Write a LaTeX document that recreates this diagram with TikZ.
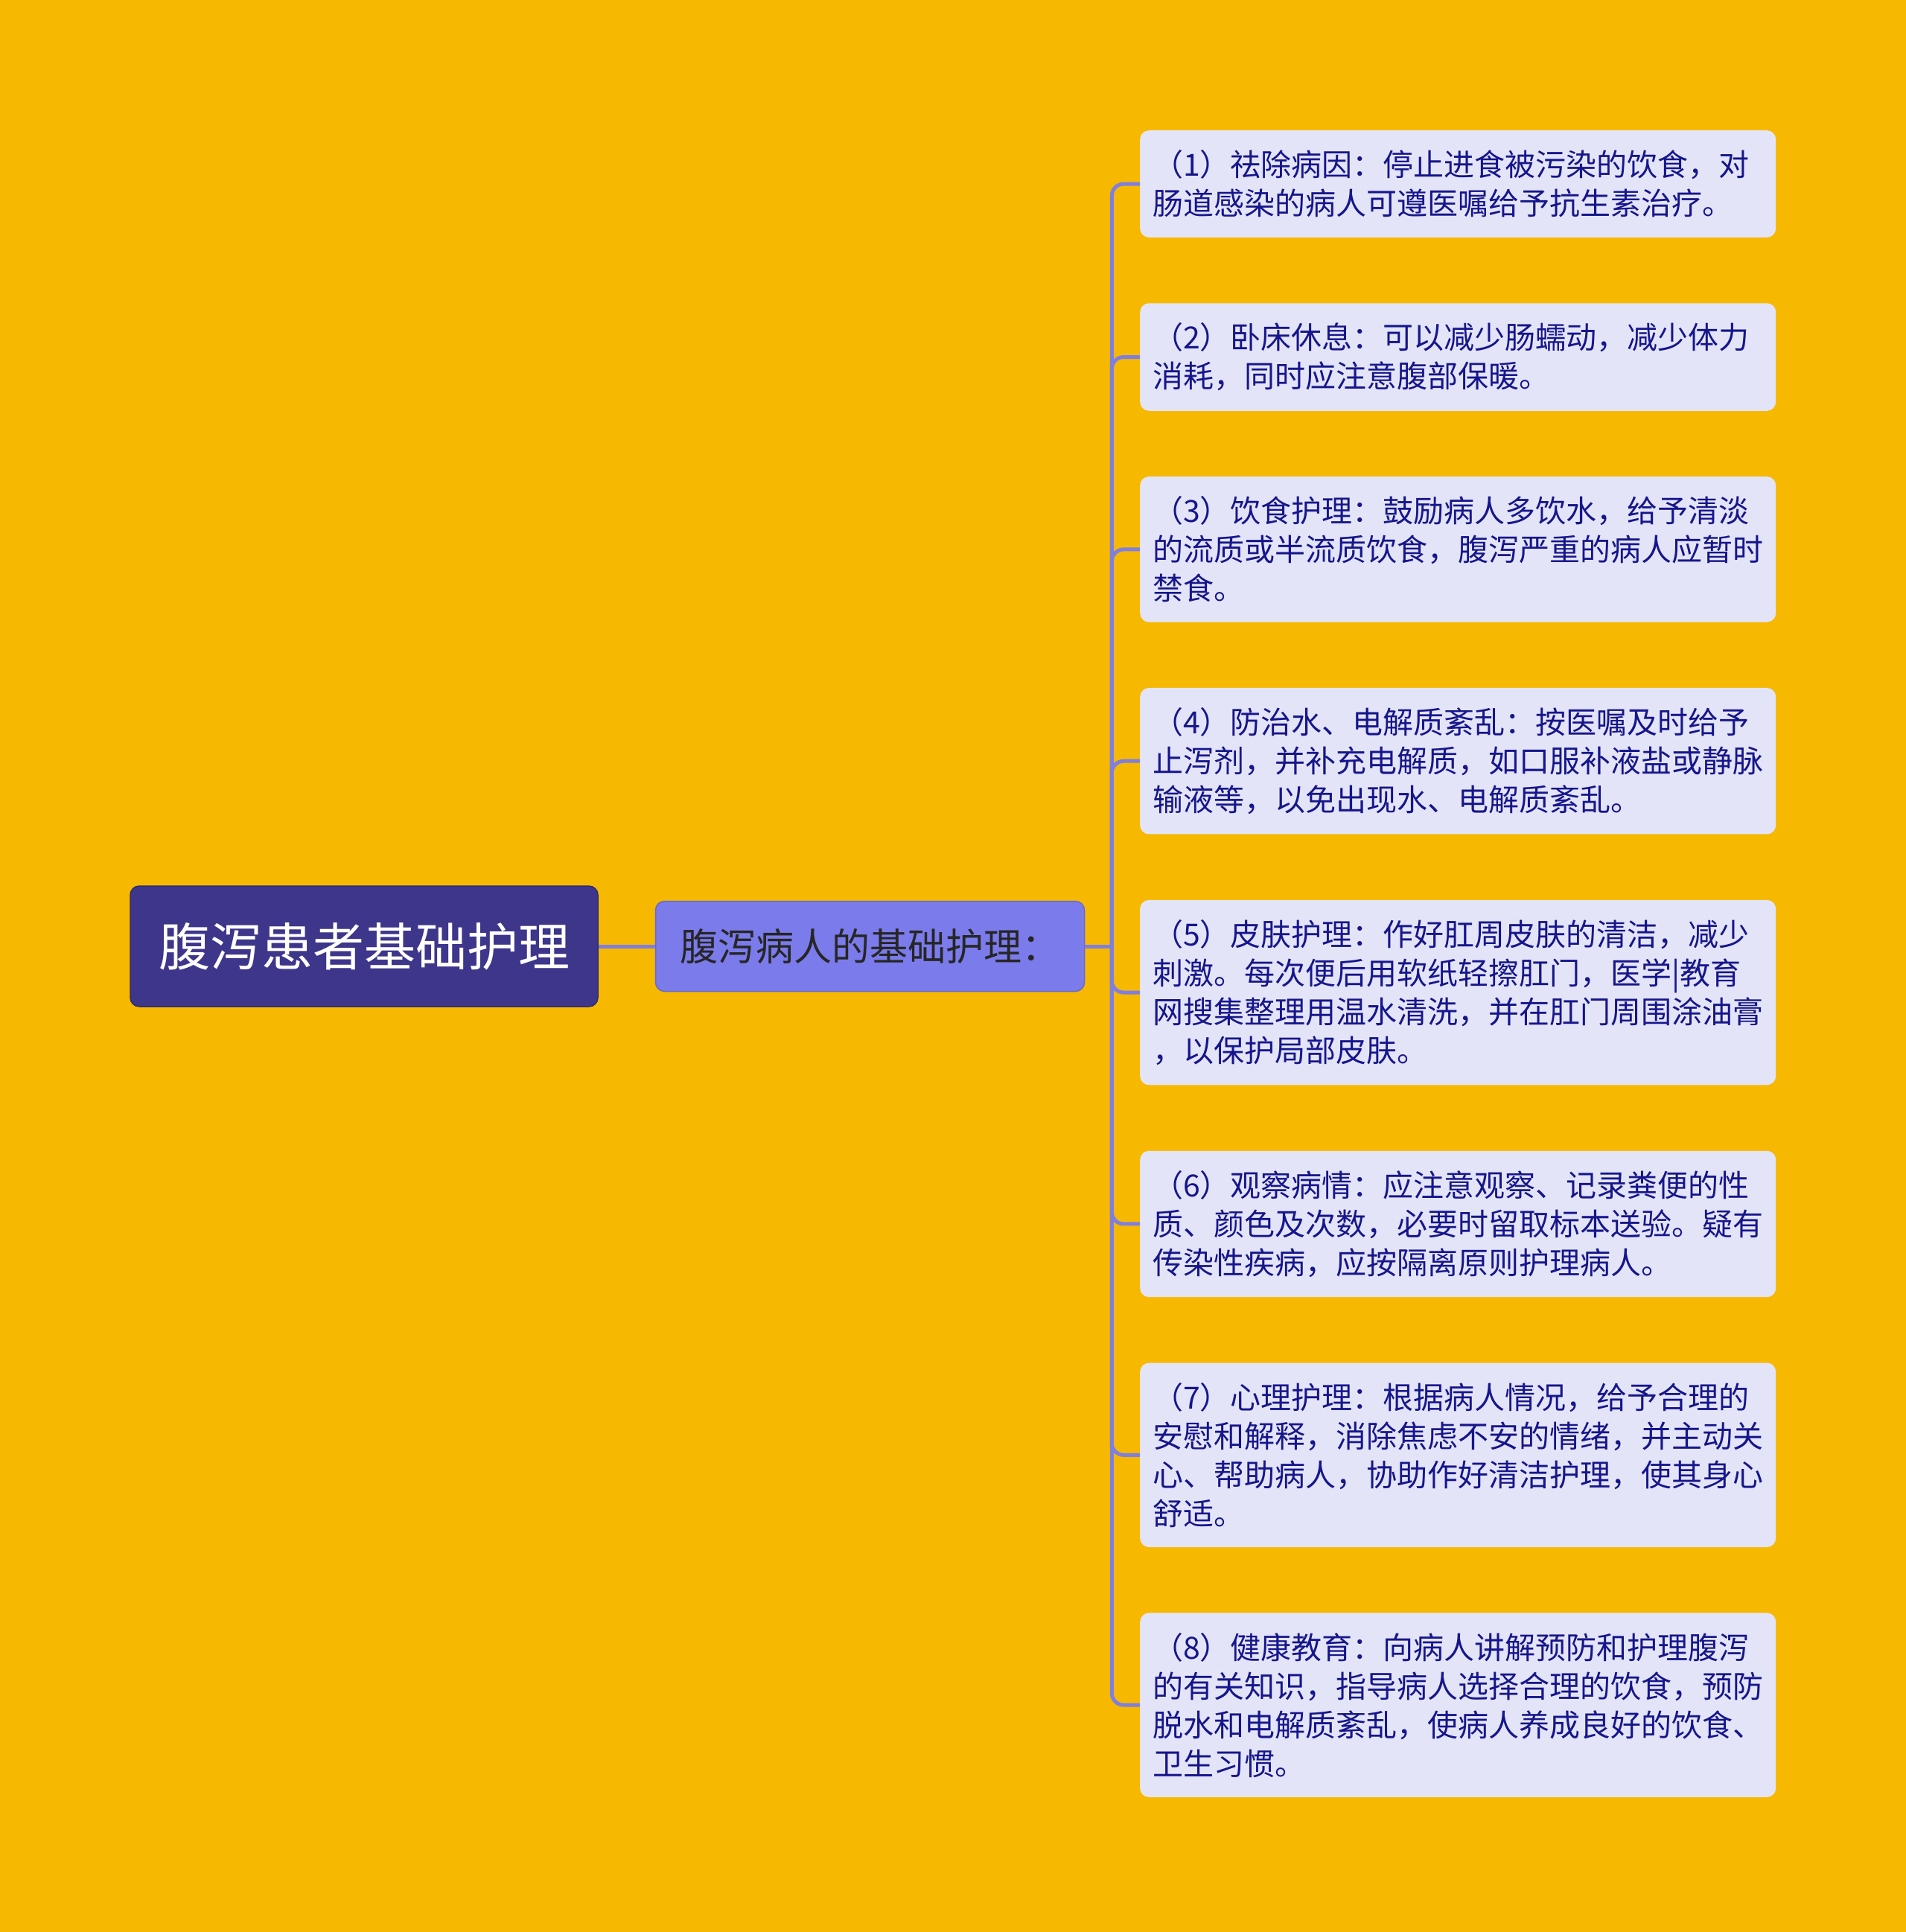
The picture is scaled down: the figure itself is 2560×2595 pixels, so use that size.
\documentclass[tikz,border=0pt]{standalone}
\usepackage{fontspec}
\setmainfont{Noto Sans CJK SC}
\usepackage{tikz}
\usetikzlibrary{positioning}
\definecolor{PageBg}{HTML}{F6B800}
\definecolor{RootFill}{HTML}{3D368B}
\definecolor{MidFill}{HTML}{7B7BEB}
\definecolor{LeafFill}{HTML}{E4E4F8}
\definecolor{LeafText}{HTML}{16168C}
\definecolor{LinkBlue}{HTML}{7F7FDF}

\begin{document}
\begin{tikzpicture}[x=1pt, y=-1pt,
        % Estilo del tema central
        rootbox/.style={
                rectangle,
                rounded corners=12pt,
                minimum width=628pt,
                minimum height=162pt,
                text centered,
                font=\fontsize{69}{80}\selectfont,
                text=white,
                fill=RootFill,
                draw=RootFill!80!black,
                line width=1.5pt
            },
        % Rama intermedia
        midbox/.style={
                rectangle,
                rounded corners=12pt,
                minimum width=576pt,
                minimum height=121pt,
                text centered,
                font=\fontsize{51}{60}\selectfont,
                text=black!85,
                fill=MidFill,
                draw=MidFill!85!black,
                line width=1.5pt
            },
        % Hojas
        leafbox/.style={
                rectangle,
                rounded corners=12pt,
                text width=820pt,
                align=left,
                inner xsep=17pt,
                inner ysep=26.5pt,
                font=\fontsize{41}{52}\selectfont,
                text=LeafText,
                fill=LeafFill
            },
        % Conectores
        link/.style={
                draw=LinkBlue,
                line width=5pt
            },
        branch/.style={
                link,
                rounded corners=16pt
            }
    ]

    % FONDO
    \fill[PageBg] (0,0) rectangle (2560,2595);

    % TEMA
    \node[rootbox] (root) at (489,1271) {腹泻患者基础护理};
    \node[midbox, right=76pt of root] (basic) {腹泻病人的基础护理：};
    \coordinate (hub) at ([xshift=36pt]basic.east);

    % HOJAS
    \node[leafbox, anchor=north west] (p1) at (1531,175) {（1）祛除病因：停止进食被污染的饮食，对\\肠道感染的病人可遵医嘱给予抗生素治疗。};
    \node[leafbox, below=88pt of p1] (p2) {（2）卧床休息：可以减少肠蠕动，减少体力\\消耗，同时应注意腹部保暖。};
    \node[leafbox, below=88pt of p2] (p3) {（3）饮食护理：鼓励病人多饮水，给予清淡\\的流质或半流质饮食，腹泻严重的病人应暂时\\禁食。};
    \node[leafbox, below=88pt of p3] (p4) {（4）防治水、电解质紊乱：按医嘱及时给予\\止泻剂，并补充电解质，如口服补液盐或静脉\\输液等，以免出现水、电解质紊乱。};
    \node[leafbox, below=88pt of p4] (p5) {（5）皮肤护理：作好肛周皮肤的清洁，减少\\刺激。每次便后用软纸轻擦肛门，医学|教育\\网搜集整理用温水清洗，并在肛门周围涂油膏\\，以保护局部皮肤。};
    \node[leafbox, below=88pt of p5] (p6) {（6）观察病情：应注意观察、记录粪便的性\\质、颜色及次数，必要时留取标本送验。疑有\\传染性疾病，应按隔离原则护理病人。};
    \node[leafbox, below=88pt of p6] (p7) {（7）心理护理：根据病人情况，给予合理的\\安慰和解释，消除焦虑不安的情绪，并主动关\\心、帮助病人，协助作好清洁护理，使其身心\\舒适。};
    \node[leafbox, below=88pt of p7] (p8) {（8）健康教育：向病人讲解预防和护理腹泻\\的有关知识，指导病人选择合理的饮食，预防\\脱水和电解质紊乱，使病人养成良好的饮食、\\卫生习惯。};

    % CONECTORES
    \draw[link] (root.east) -- (basic.west);
    \draw[link] (basic.east) -- (hub);
    \draw[branch] (hub) |- (p1.west);
    \draw[branch] (hub) |- (p2.west);
    \draw[branch] (hub) |- (p3.west);
    \draw[branch] (hub) |- (p4.west);
    \draw[branch] (hub) |- (p5.west);
    \draw[branch] (hub) |- (p6.west);
    \draw[branch] (hub) |- (p7.west);
    \draw[branch] (hub) |- (p8.west);

\end{tikzpicture}
\end{document}
